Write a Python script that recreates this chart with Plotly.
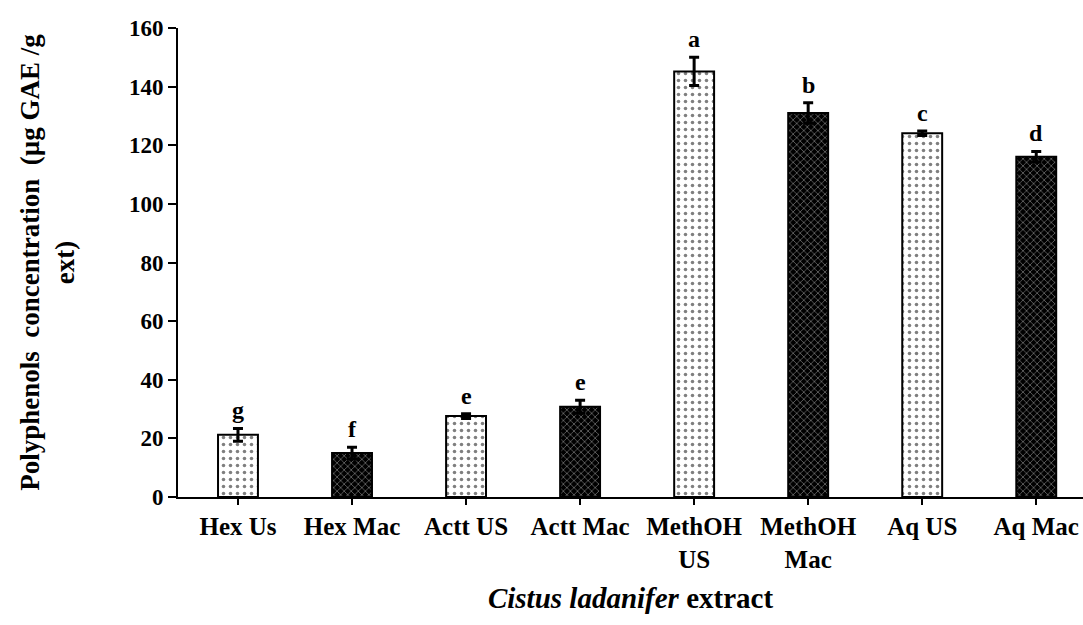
import plotly.graph_objects as go

categories = ["Hex Us", "Hex Mac", "Actt US", "Actt Mac", "MethOH<br>US", "MethOH<br>Mac", "Aq US", "Aq Mac"]
values = [21.2, 15.0, 27.6, 30.8, 145.2, 131.0, 124.1, 116.1]
errors = [2.2, 2.0, 0.8, 2.2, 4.8, 3.5, 0.8, 1.8]
letters = ["g", "f", "e", "e", "a", "b", "c", "d"]
y_ticks = [0, 20, 40, 60, 80, 100, 120, 140, 160]

FONT = "Liberation Serif"
x_idx = list(range(len(categories)))
light = [0, 2, 4, 6]
dark = [1, 3, 5, 7]

fig = go.Figure()
fig.add_trace(go.Bar(
    x=[x_idx[i] for i in light], y=[values[i] for i in light],
    error_y=dict(type="data", array=[errors[i] for i in light], color="black", thickness=3, width=5),
    width=0.35,
    marker=dict(color="white", line=dict(color="black", width=2),
                pattern=dict(shape=".", fgcolor="black", bgcolor="white", size=7, solidity=0.2)),
    showlegend=False,
))
fig.add_trace(go.Bar(
    x=[x_idx[i] for i in dark], y=[values[i] for i in dark],
    error_y=dict(type="data", array=[errors[i] for i in dark], color="black", thickness=3, width=5),
    width=0.35,
    marker=dict(color="black", line=dict(color="black", width=2),
                pattern=dict(shape="x", fgcolor="#d0d0d0", bgcolor="black", size=5, solidity=0.3)),
    showlegend=False,
))

for i, (v, e, l) in enumerate(zip(values, errors, letters)):
    fig.add_annotation(x=i, y=v + e, text=f"<b>{l}</b>", showarrow=False,
                       yanchor="bottom", yshift=3,
                       font=dict(family=FONT, size=24, color="black"))

fig.update_layout(
    width=1083, height=625,
    margin=dict(l=178, r=0, t=28, b=128),
    plot_bgcolor="white", paper_bgcolor="white",
    font=dict(family=FONT, color="black"),
    bargap=0.6,
)
fig.update_xaxes(
    tickmode="array", tickvals=x_idx, ticktext=[f"<b>{c}</b>" for c in categories],
    range=[-0.526, 7.41],
    showline=True, linecolor="black", linewidth=2,
    ticks="outside", ticklen=6, tickwidth=1.5, tickcolor="black",
    tickfont=dict(family=FONT, size=25, color="black"),
    showgrid=False, zeroline=False,
    title=dict(text="<b><i>Cistus ladanifer</i> extract</b>", font=dict(family=FONT, size=29, color="black"), standoff=16),
)
fig.update_yaxes(
    range=[0, 160], tickvals=y_ticks, ticktext=[f"<b>{t}</b>" for t in y_ticks],
    showline=True, linecolor="black", linewidth=2,
    ticks="outside", ticklen=8, tickwidth=1.5, tickcolor="black",
    tickfont=dict(family=FONT, size=23, color="black"),
    showgrid=False, zeroline=False,
    title=dict(text="<b>Polyphenols  concentration  (µg GAE /g<br>ext)</b>", font=dict(family=FONT, size=27, color="black"), standoff=46),
)

fig.write_html("out.html", config={"displayModeBar": False},
               post_script="document.body.style.margin='0';")
